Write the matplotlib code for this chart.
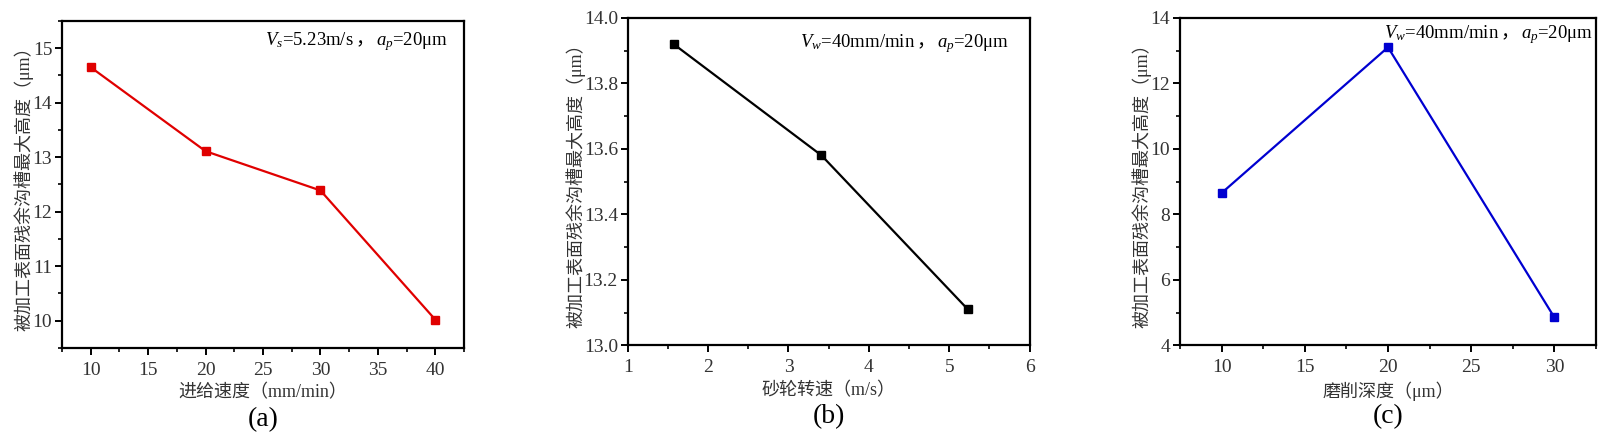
import matplotlib
matplotlib.use("Agg")
import matplotlib.pyplot as plt
from matplotlib.ticker import MultipleLocator, AutoMinorLocator, FormatStrFormatter
from matplotlib.offsetbox import TextArea, HPacker, AnchoredOffsetbox

plt.rcParams['font.family'] = ['Liberation Serif', 'Noto Sans CJK SC']
plt.rcParams['mathtext.fontset'] = 'custom'
plt.rcParams['mathtext.rm'] = 'Liberation Serif'
plt.rcParams['mathtext.it'] = 'Liberation Serif:italic'

# Panel (a): feed speed
feed_speed = [10, 20, 30, 40]
height_a = [14.65, 13.11, 12.39, 10.02]
# Panel (b): wheel speed
wheel_speed = [1.57, 3.41, 5.23]
height_b = [13.92, 13.58, 13.11]
# Panel (c): grinding depth
grind_depth = [10, 20, 30]
height_c = [8.65, 13.10, 4.85]

ylabel = "被加工表面残余沟槽最大高度（μm）"
xlabels = ["进给速度（mm/min）", "砂轮转速（m/s）", "磨削深度（μm）"]
annots = [(r"$V_s$=5.23m/s", "，", r"$a_p$=20μm"),
          (r"$V_w$=40mm/min", "，", r"$a_p$=20μm"),
          (r"$V_w$=40mm/min", "，", r"$a_p$=20μm")]
panel_labels = ["(a)", "(b)", "(c)"]

fig = plt.figure(figsize=(16, 4.45), dpi=100)
txtc = '#333333'

specs = [
    dict(pos=[0.03875, 0.218, 0.25125, 0.735], x=feed_speed, y=height_a, c='#e00000',
         xlim=(7.5, 42.5), ylim=(9.5, 15.5), xmaj=5, ymaj=1, ann=(0.96, 0.975)),
    dict(pos=[0.3923, 0.224, 0.25125, 0.736], x=wheel_speed, y=height_b, c='black',
         xlim=(1, 6), ylim=(13.0, 14.0), xmaj=1, ymaj=0.2, ann=(0.948, 0.96)),
    dict(pos=[0.7375, 0.224, 0.26, 0.736], x=grind_depth, y=height_c, c='#0000d0',
         xlim=(7.5, 32.5), ylim=(4, 14), xmaj=5, ymaj=2, ann=(0.992, 0.985)),
]

for i, s in enumerate(specs):
    ax = fig.add_axes(s['pos'])
    ax.plot(s['x'], s['y'], color=s['c'], lw=1.6, marker='s', ms=5.5,
            markerfacecolor=s['c'], markeredgecolor=s['c'])
    ax.set_xlim(*s['xlim'])
    ax.set_ylim(*s['ylim'])
    ax.xaxis.set_major_locator(MultipleLocator(s['xmaj']))
    ax.yaxis.set_major_locator(MultipleLocator(s['ymaj']))
    ax.xaxis.set_minor_locator(AutoMinorLocator(2))
    ax.yaxis.set_minor_locator(AutoMinorLocator(2))
    if i == 1:
        ax.yaxis.set_major_formatter(FormatStrFormatter('%.1f'))
    for sp in ax.spines.values():
        sp.set_linewidth(1.6)
    ax.tick_params(which='major', direction='out', length=5, width=1.4,
                   labelsize=14, labelcolor=txtc)
    ax.tick_params(axis='y', which='major', pad=2)
    ax.tick_params(axis='x', which='major', pad=5)
    ax.tick_params(which='minor', direction='out', length=3, width=1.2)
    ax.set_ylabel(ylabel, fontsize=13, color=txtc, labelpad=-1)
    ax.set_xlabel(xlabels[i], fontsize=13, color=txtc, labelpad=4)
    parts = annots[i]
    tas = [TextArea(parts[0], textprops=dict(fontsize=13.5)),
           TextArea(parts[1], textprops=dict(fontsize=13.5, family='Noto Sans CJK SC')),
           TextArea(parts[2], textprops=dict(fontsize=13.5))]
    box = HPacker(children=tas, align='baseline', pad=0, sep=1)
    anchored = AnchoredOffsetbox(loc='upper right', child=box, pad=0, borderpad=0,
                                 frameon=False, bbox_to_anchor=s['ann'],
                                 bbox_transform=ax.transAxes)
    ax.add_artist(anchored)
    ax.text(0.5, -0.18, panel_labels[i], transform=ax.transAxes,
            ha='center', va='top', fontsize=20)

fig.savefig("out.png", dpi=100)
